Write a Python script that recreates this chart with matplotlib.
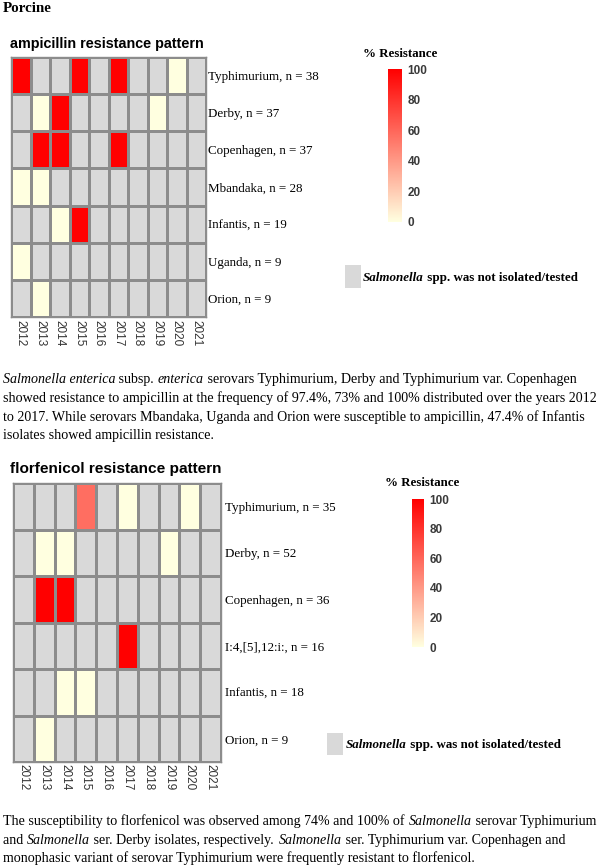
import numpy as np
import matplotlib
matplotlib.use('Agg')
import matplotlib as mpl
import matplotlib.pyplot as plt
from matplotlib.colors import LinearSegmentedColormap, Normalize
from matplotlib.font_manager import FontProperties, findfont
from matplotlib.ft2font import FT2Font
from matplotlib.patches import Rectangle

try:
    from matplotlib.ft2font import LoadFlags
    NOHINT = LoadFlags.NO_HINTING
except Exception:
    NOHINT = 2

# ---------------- data ----------------
years = ["2012", "2013", "2014", "2015", "2016", "2017", "2018", "2019", "2020", "2021"]
nan = np.nan

amp_rows = ["Typhimurium, n = 38", "Derby, n = 37", "Copenhagen, n = 37",
            "Mbandaka, n = 28", "Infantis, n = 19", "Uganda, n = 9", "Orion, n = 9"]
amp_values = [
    [100, nan, nan, 100, nan, 100, nan, nan, 0, nan],
    [nan, 0, 100, nan, nan, nan, nan, 0, nan, nan],
    [nan, 100, 100, nan, nan, 100, nan, nan, nan, nan],
    [0, 0, nan, nan, nan, nan, nan, nan, nan, nan],
    [nan, nan, 0, 100, nan, nan, nan, nan, nan, nan],
    [0, nan, nan, nan, nan, nan, nan, nan, nan, nan],
    [nan, 0, nan, nan, nan, nan, nan, nan, nan, nan],
]

flor_rows = ["Typhimurium, n = 35", "Derby, n = 52", "Copenhagen, n = 36",
             "I:4,[5],12:i:, n = 16", "Infantis, n = 18", "Orion, n = 9"]
flor_values = [
    [nan, nan, nan, 57, nan, 0, nan, nan, 0, nan],
    [nan, 0, 0, nan, nan, nan, nan, 0, nan, nan],
    [nan, 100, 100, nan, nan, nan, nan, nan, nan, nan],
    [nan, nan, nan, nan, nan, 100, nan, nan, nan, nan],
    [nan, nan, 0, 0, nan, nan, nan, nan, nan, nan],
    [nan, 0, nan, nan, nan, nan, nan, nan, nan, nan],
]
cbar_ticks = [0, 20, 40, 60, 80, 100]

para1 = [
    [("Salmonella enterica", "i"), (" subsp. ", "n"), ("enterica", "i"),
     (" serovars Typhimurium, Derby and Typhimurium var. Copenhagen", "n")],
    [("showed resistance to ampicillin at the frequency of 97.4%, 73% and 100% distributed over the years 2012", "n")],
    [("to 2017. While serovars Mbandaka, Uganda and Orion were susceptible to ampicillin, 47.4% of Infantis", "n")],
    [("isolates showed ampicillin resistance.", "n")],
]
para2 = [
    [("The susceptibility to florfenicol was observed among 74% and 100% of ", "n"), ("Salmonella", "i"),
     (" serovar Typhimurium", "n")],
    [("and ", "n"), ("Salmonella", "i"), (" ser. Derby isolates, respectively. ", "n"), ("Salmonella", "i"),
     (" ser. Typhimurium var. Copenhagen and", "n")],
    [("monophasic variant of serovar Typhimurium were frequently resistant to florfenicol.", "n")],
]
legend_runs = [("Salmonella", "bi"), (" spp. was not isolated/tested", "b")]

# ---------------- layout helpers ----------------
W, H = 600, 868
DPI = 100
fig = plt.figure(figsize=(W / DPI, H / DPI), dpi=DPI)

SERIF = "Liberation Serif"
SANS = "Liberation Sans"
GRAY = "#D9D9D9"
EDGE = "#8C8C8C"


def ax_px(l, t, r, b):
    return fig.add_axes([l / W, 1 - b / H, (r - l) / W, (b - t) / H])


def fx(x):
    return x / W


def fy(y):
    return 1 - y / H


def fprop(style, size):
    return FontProperties(family=SERIF, size=size,
                          style="italic" if "i" in style else "normal",
                          weight="bold" if "b" in style else "normal")


def adv(s, prop):
    f = FT2Font(findfont(prop))
    f.set_size(prop.get_size_in_points(), DPI)
    total = 0.0
    for ch in s:
        g = f.load_char(ord(ch), flags=NOHINT)
        total += g.linearHoriAdvance / 65536.0
    return total


def runs_text(x, y, runs, size, color="black"):
    # y is the visual centre of the line; draw on a common baseline
    base = y + size * DPI / 72 * 0.32
    for s, st in runs:
        p = fprop(st, size)
        fig.text(fx(x), fy(base), s, fontproperties=p, ha="left", va="baseline", color=color)
        x += adv(s, p)


base_cmap = LinearSegmentedColormap.from_list("res", ["#FFFFE0", "#FF0000"])
cmap = base_cmap.with_extremes(bad=GRAY)
norm = Normalize(0, 100)


def heatmap(box, values, rows, rpad, xpad):
    ax = ax_px(*box)
    ax.set_facecolor(GRAY)
    data = np.ma.masked_invalid(np.array(values, float))
    ax.pcolormesh(np.arange(len(years) + 1), np.arange(len(rows) + 1), data,
                  cmap=cmap, norm=norm, edgecolors=EDGE, linewidth=1.0)
    ax.set_xlim(0, len(years))
    ax.set_ylim(len(rows), 0)
    ax.set_xticks(np.arange(len(years)) + 0.5)
    ax.set_xticklabels(years, rotation=-90, fontfamily=SANS, fontsize=8.5, color="#333333")
    ax.set_yticks(np.arange(len(rows)) + 0.5)
    ax.set_yticklabels(rows, fontfamily=SERIF, fontsize=9.4, color="black")
    ax.yaxis.tick_right()
    ax.tick_params(axis="y", length=0, pad=rpad)
    ax.tick_params(axis="x", length=0, pad=xpad)
    for s in ax.spines.values():
        s.set_color(EDGE)
        s.set_linewidth(1.0)
    return ax


def colorbar(box, title_xy):
    cax = ax_px(*box)
    cb = mpl.colorbar.ColorbarBase(cax, cmap=base_cmap, norm=norm, ticks=cbar_ticks)
    cb.outline.set_visible(False)
    cax.tick_params(length=0, pad=4)
    for t in cax.get_yticklabels():
        t.set_fontfamily(SANS)
        t.set_fontsize(8.5)
        t.set_fontweight("bold")
        t.set_color("#3a3a3a")
    fig.text(fx(title_xy[0]), fy(title_xy[1]), "% Resistance", fontfamily=SERIF,
             fontweight="bold", fontsize=9.3, ha="center", va="center")


def legend(sq, text_xy):
    l, t, r, b = sq
    fig.patches.append(Rectangle((fx(l), fy(b)), (r - l) / W, (b - t) / H,
                                 transform=fig.transFigure, facecolor=GRAY, edgecolor="none"))
    runs_text(text_xy[0], text_xy[1], legend_runs, 9.35)


# ---------------- drawing ----------------
fig.text(fx(3), fy(8), "Porcine", fontfamily=SERIF, fontweight="bold", fontsize=10.8,
         ha="left", va="center")

# ampicillin
fig.text(fx(10), fy(44), "ampicillin resistance pattern", fontfamily=SANS, fontweight="bold",
         fontsize=10.4, ha="left", va="center")
heatmap((11, 57, 206, 317), amp_values, amp_rows, rpad=1.5, xpad=2)
colorbar((388, 69, 402, 222), (400, 54))
legend((345, 265, 361, 288), (363, 277))

for i, line in enumerate(para1):
    runs_text(3, 379 + i * 18.6, line, 10.05)

# florfenicol
fig.text(fx(10), fy(469), "florfenicol resistance pattern", fontfamily=SANS, fontweight="bold",
         fontsize=11.1, ha="left", va="center")
heatmap((13, 483, 221, 762), flor_values, flor_rows, rpad=3, xpad=1.5)
colorbar((412, 499, 424, 647), (422, 483))
legend((327, 733, 343, 755), (346, 744))

for i, line in enumerate(para2):
    runs_text(3, 821 + i * 18.5, line, 10.05)

fig.savefig("out.png", dpi=DPI)
